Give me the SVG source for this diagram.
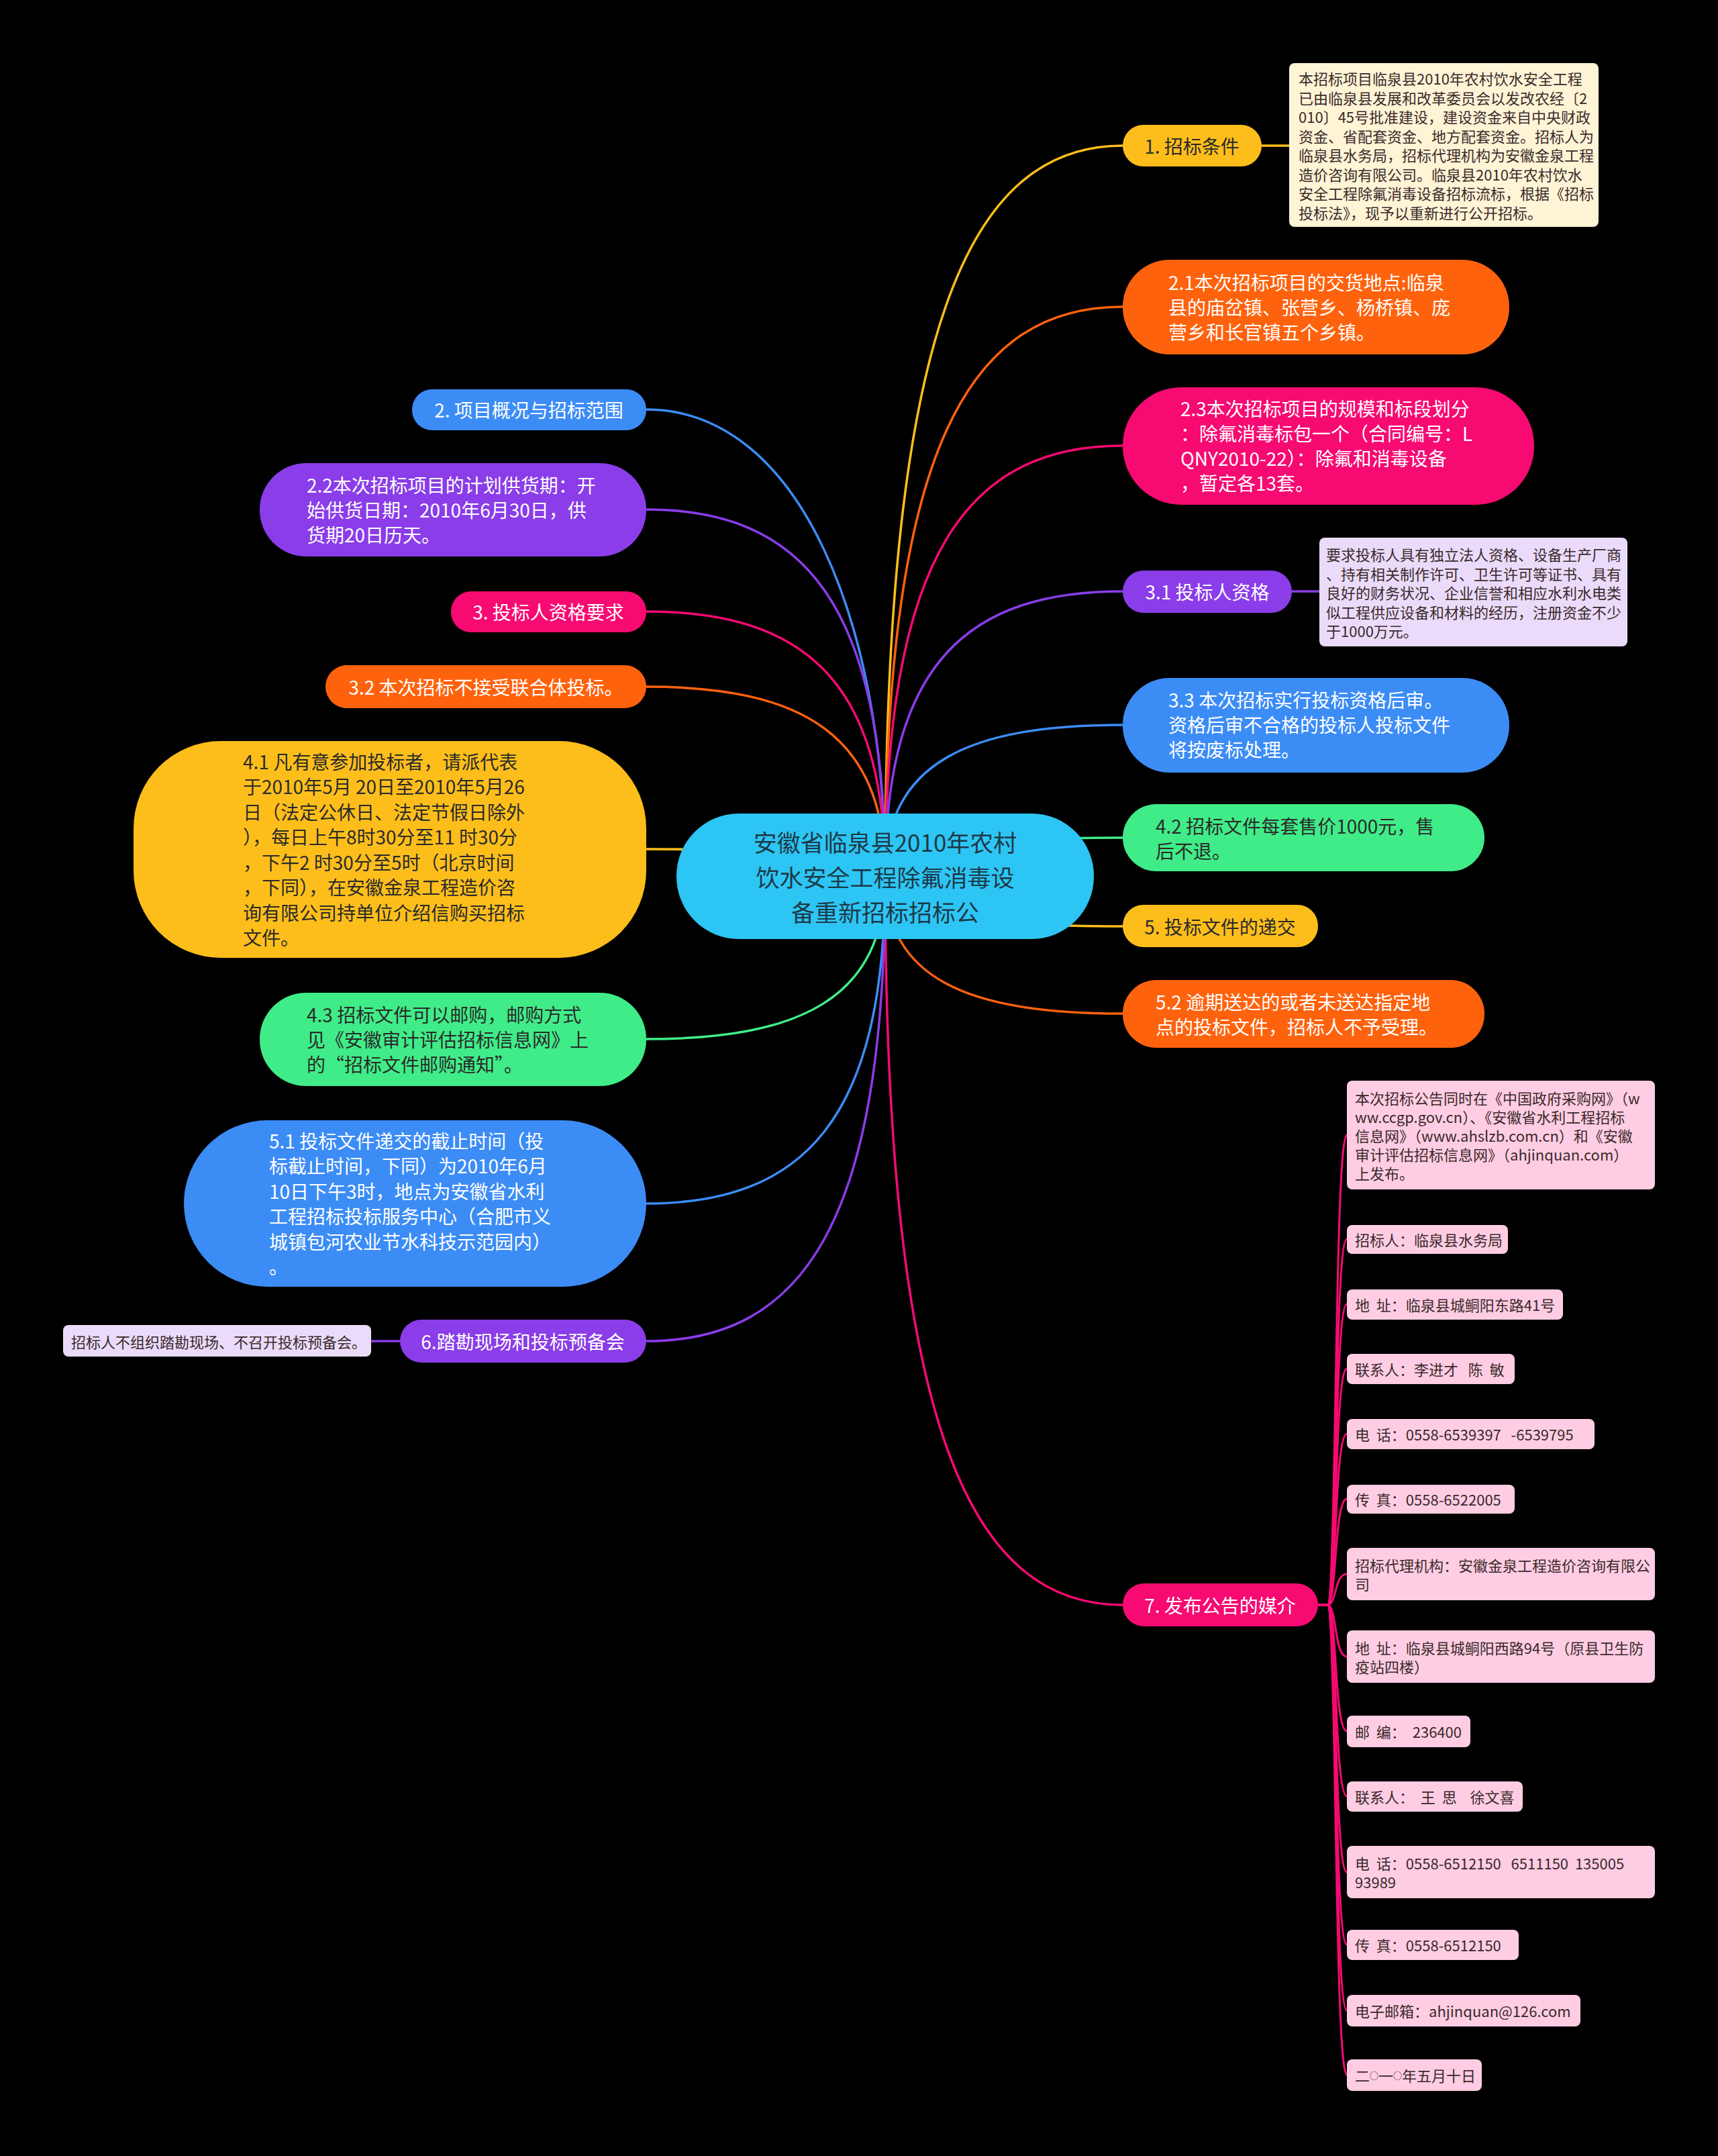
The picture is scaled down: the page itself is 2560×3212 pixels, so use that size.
<svg xmlns="http://www.w3.org/2000/svg" width="2560" height="3212" viewBox="0 0 2560 3212">
<style>
text{font-family:"Noto Sans CJK SC","Noto Sans",sans-serif;}
.f28{font-size:28px}
.f35{font-size:35px}
.f22{font-size:22px}
.pre{white-space:pre}
.w{fill:#ffffff}
.d{fill:#2a2a2a}
.n{fill:#3a2a2a}
.c{stroke-width:3.5;fill:none;stroke-linecap:round}
.amber{fill:#FDBE1B}.orange{fill:#FF620D}.pink{fill:#F70A72}.purple{fill:#8A3DE8}.blue{fill:#3C8CF6}.green{fill:#40EC88}
.cream{fill:#FFF4D6}.lav{fill:#EADBFA}.lpink{fill:#FFCDE3}
</style>
<rect x="0" y="0" width="2560" height="3212" fill="#000000"/>
<g id="connectors">
<path class="c" stroke="#FDBE1B" d="M1319,1305 C1319,489 1443,217 1673,217"/>
<path class="c" stroke="#FF620D" d="M1319,1305 C1319,669 1443,457 1673,457"/>
<path class="c" stroke="#F70A72" d="M1319,1305 C1319,824 1443,664 1673,664"/>
<path class="c" stroke="#8A3DE8" d="M1319,1305 C1319,987 1443,881 1673,881"/>
<path class="c" stroke="#3C8CF6" d="M1319,1305 C1319,1136 1443,1080 1673,1080"/>
<path class="c" stroke="#40EC88" d="M1319,1305 C1319,1262 1443,1248 1673,1248"/>
<path class="c" stroke="#FDBE1B" d="M1319,1305 C1319,1361 1443,1380 1673,1380"/>
<path class="c" stroke="#FF620D" d="M1319,1305 C1319,1459 1443,1510 1673,1510"/>
<path class="c" stroke="#F70A72" d="M1319,1305 C1319,2120 1443,2391 1673,2391"/>
<path class="c" stroke="#3C8CF6" d="M1319,1305 C1319,936 1195,610 963,610"/>
<path class="c" stroke="#8A3DE8" d="M1319,1305 C1319,896 1195,759 963,759"/>
<path class="c" stroke="#F70A72" d="M1319,1305 C1319,1012 1195,911 963,911"/>
<path class="c" stroke="#FF620D" d="M1319,1305 C1319,1094 1195,1023 963,1023"/>
<path class="c" stroke="#FDBE1B" d="M1319,1305 C1319,1275 1195,1265 963,1265"/>
<path class="c" stroke="#40EC88" d="M1319,1305 C1319,1486 1195,1548 963,1548"/>
<path class="c" stroke="#3C8CF6" d="M1319,1305 C1319,1671 1195,1793 963,1793"/>
<path class="c" stroke="#8A3DE8" d="M1319,1305 C1319,1825 1195,1998 963,1998"/>
<path class="c" stroke="#FDBE1B" d="M1880,217 H1921"/>
<path class="c" stroke="#8A3DE8" d="M1925,881 H1966"/>
<path class="c" stroke="#8A3DE8" d="M553,1998 H596"/>
<g stroke="#F70A72" class="c" style="stroke-width:3">
<path d="M1964,2391 H1978 C1992,2391 1988,1691 2007,1691"/>
<path d="M1964,2391 H1978 C1992,2391 1988,1846 2007,1846"/>
<path d="M1964,2391 H1978 C1992,2391 1988,1943 2007,1943"/>
<path d="M1964,2391 H1978 C1992,2391 1988,2039 2007,2039"/>
<path d="M1964,2391 H1978 C1992,2391 1988,2136 2007,2136"/>
<path d="M1964,2391 H1978 C1992,2391 1988,2233 2007,2233"/>
<path d="M1964,2391 H1978 C1992,2391 1988,2345 2007,2345"/>
<path d="M1964,2391 H1978 C1992,2391 1988,2468 2007,2468"/>
<path d="M1964,2391 H1978 C1992,2391 1988,2579 2007,2579"/>
<path d="M1964,2391 H1978 C1992,2391 1988,2676 2007,2676"/>
<path d="M1964,2391 H1978 C1992,2391 1988,2789 2007,2789"/>
<path d="M1964,2391 H1978 C1992,2391 1988,2897 2007,2897"/>
<path d="M1964,2391 H1978 C1992,2391 1988,2995 2007,2995"/>
<path d="M1964,2391 H1978 C1992,2391 1988,3091 2007,3091"/>
</g>
</g>

<g id="center">
<rect x="1008" y="1212" width="622" height="187" rx="93" fill="#2DC5F4"/>
<text class="f35" fill="#1C3A48" text-anchor="middle" dominant-baseline="central"><tspan x="1319" y="1253">安徽省临泉县2010年农村</tspan><tspan x="1319" y="1305">饮水安全工程除氟消毒设</tspan><tspan x="1319" y="1357">备重新招标招标公</tspan></text>
</g>

<g id="n1">
<rect class="amber" x="1673" y="186" width="207" height="62" rx="31"/>
<text class="f28 d" x="1776" y="217" text-anchor="middle" dominant-baseline="central">1. 招标条件</text>
</g>
<g id="note1">
<rect class="cream" x="1921" y="94" width="461" height="244" rx="8"/>
<text class="f22 n" dominant-baseline="central"><tspan x="1935" y="116">本招标项目临泉县2010年农村饮水安全工程</tspan><tspan x="1935" y="144.5">已由临泉县发展和改革委员会以发改农经〔2</tspan><tspan x="1935" y="173">010〕45号批准建设，建设资金来自中央财政</tspan><tspan x="1935" y="201.5">资金、省配套资金、地方配套资金。招标人为</tspan><tspan x="1935" y="230">临泉县水务局，招标代理机构为安徽金泉工程</tspan><tspan x="1935" y="258.5">造价咨询有限公司。临泉县2010年农村饮水</tspan><tspan x="1935" y="287">安全工程除氟消毒设备招标流标，根据《招标</tspan><tspan x="1935" y="315.5">投标法》，现予以重新进行公开招标。</tspan></text>
</g>
<g id="n21">
<rect class="orange" x="1673" y="387" width="576" height="141" rx="70"/>
<text class="f28 w" dominant-baseline="central"><tspan x="1741" y="420">2.1本次招标项目的交货地点:临泉</tspan><tspan x="1741" y="457">县的庙岔镇、张营乡、杨桥镇、庞</tspan><tspan x="1741" y="494">营乡和长官镇五个乡镇。</tspan></text>
</g>
<g id="n23">
<rect class="pink" x="1673" y="577" width="613" height="175" rx="87"/>
<text class="f28 w" dominant-baseline="central"><tspan x="1759" y="608">2.3本次招标项目的规模和标段划分</tspan><tspan x="1759" y="645">：除氟消毒标包一个（合同编号：L</tspan><tspan x="1759" y="682">QNY2010-22）：除氟和消毒设备</tspan><tspan x="1759" y="719">，暂定各13套。</tspan></text>
</g>
<g id="n31">
<rect class="purple" x="1673" y="850" width="252" height="63" rx="31"/>
<text class="f28 w" x="1799" y="881" text-anchor="middle" dominant-baseline="central">3.1 投标人资格</text>
</g>
<g id="note31">
<rect class="lav" x="1966" y="801" width="459" height="162" rx="8"/>
<text class="f22 n" dominant-baseline="central"><tspan x="1976" y="825">要求投标人具有独立法人资格、设备生产厂商</tspan><tspan x="1976" y="853.5">、持有相关制作许可、卫生许可等证书、具有</tspan><tspan x="1976" y="882">良好的财务状况、企业信誉和相应水利水电类</tspan><tspan x="1976" y="910.5">似工程供应设备和材料的经历，注册资金不少</tspan><tspan x="1976" y="939">于1000万元。</tspan></text>
</g>
<g id="n33">
<rect class="blue" x="1673" y="1010" width="576" height="141" rx="70"/>
<text class="f28 w" dominant-baseline="central"><tspan x="1741" y="1042">3.3 本次招标实行投标资格后审。</tspan><tspan x="1741" y="1079">资格后审不合格的投标人投标文件</tspan><tspan x="1741" y="1116">将按废标处理。</tspan></text>
</g>
<g id="n42">
<rect class="green" x="1673" y="1198" width="539" height="100" rx="50"/>
<text class="f28 d" dominant-baseline="central"><tspan x="1722" y="1229.5">4.2 招标文件每套售价1000元，售</tspan><tspan x="1722" y="1266.5">后不退。</tspan></text>
</g>
<g id="n5">
<rect class="amber" x="1673" y="1348" width="291" height="63" rx="31"/>
<text class="f28 d" x="1818" y="1380" text-anchor="middle" dominant-baseline="central">5. 投标文件的递交</text>
</g>
<g id="n52">
<rect class="orange" x="1673" y="1460" width="539" height="101" rx="50"/>
<text class="f28 w" dominant-baseline="central"><tspan x="1722" y="1492">5.2 逾期送达的或者未送达指定地</tspan><tspan x="1722" y="1529">点的投标文件，招标人不予受理。</tspan></text>
</g>
<g id="n7">
<rect class="pink" x="1673" y="2359" width="291" height="64" rx="32"/>
<text class="f28 w" x="1818" y="2391" text-anchor="middle" dominant-baseline="central">7. 发布公告的媒介</text>
</g>

<g id="n7a">
<rect class="lpink" x="2007" y="1610" width="459" height="162" rx="8"/>
<text class="f22 n" dominant-baseline="central"><tspan x="2019" y="1635">本次招标公告同时在《中国政府采购网》（w</tspan><tspan x="2019" y="1663">ww.ccgp.gov.cn）、《安徽省水利工程招标</tspan><tspan x="2019" y="1691">信息网》（www.ahslzb.com.cn）和《安徽</tspan><tspan x="2019" y="1719">审计评估招标信息网》（ahjinquan.com）</tspan><tspan x="2019" y="1747">上发布。</tspan></text>
</g>
<g id="n7b"><rect class="lpink" x="2007" y="1825" width="240" height="43" rx="8"/><text class="f22 n" x="2019" y="1846" dominant-baseline="central">招标人：临泉县水务局</text></g>
<g id="n7c"><rect class="lpink" x="2007" y="1921" width="322" height="45" rx="8"/><text class="f22 n pre" x="2019" y="1943" dominant-baseline="central">地  址：临泉县城鲖阳东路41号</text></g>
<g id="n7d"><rect class="lpink" x="2007" y="2017" width="250" height="45" rx="8"/><text class="f22 n pre" x="2019" y="2039" dominant-baseline="central">联系人：李进才   陈  敏</text></g>
<g id="n7e"><rect class="lpink" x="2007" y="2114" width="369" height="45" rx="8"/><text class="f22 n pre" x="2019" y="2136" dominant-baseline="central">电  话：0558-6539397   -6539795</text></g>
<g id="n7f"><rect class="lpink" x="2007" y="2212" width="250" height="43" rx="8"/><text class="f22 n pre" x="2019" y="2233" dominant-baseline="central">传  真：0558-6522005</text></g>
<g id="n7g"><rect class="lpink" x="2007" y="2306" width="459" height="78" rx="8"/><text class="f22 n" dominant-baseline="central"><tspan x="2019" y="2331">招标代理机构：安徽金泉工程造价咨询有限公</tspan><tspan x="2019" y="2359">司</tspan></text></g>
<g id="n7h"><rect class="lpink" x="2007" y="2429" width="459" height="78" rx="8"/><text class="f22 n pre" dominant-baseline="central"><tspan x="2019" y="2454">地  址：临泉县城鲖阳西路94号（原县卫生防</tspan><tspan x="2019" y="2482">疫站四楼）</tspan></text></g>
<g id="n7i"><rect class="lpink" x="2007" y="2556" width="184" height="47" rx="8"/><text class="f22 n pre" x="2019" y="2579" dominant-baseline="central">邮  编：  236400</text></g>
<g id="n7j"><rect class="lpink" x="2007" y="2654" width="262" height="45" rx="8"/><text class="f22 n pre" x="2019" y="2676" dominant-baseline="central">联系人：  王  思    徐文喜</text></g>
<g id="n7k"><rect class="lpink" x="2007" y="2750" width="459" height="78" rx="8"/><text class="f22 n pre" dominant-baseline="central"><tspan x="2019" y="2775">电  话：0558-6512150   6511150  135005</tspan><tspan x="2019" y="2803">93989</tspan></text></g>
<g id="n7l"><rect class="lpink" x="2007" y="2875" width="256" height="45" rx="8"/><text class="f22 n pre" x="2019" y="2897" dominant-baseline="central">传  真：0558-6512150</text></g>
<g id="n7m"><rect class="lpink" x="2007" y="2972" width="348" height="47" rx="8"/><text class="f22 n" x="2019" y="2995" dominant-baseline="central">电子邮箱：ahjinquan@126.com</text></g>
<g id="n7n"><rect class="lpink" x="2007" y="3068" width="201" height="47" rx="8"/><text class="f22 n" x="2019" y="3091" dominant-baseline="central">二<tspan style="font-size:13px">○</tspan>一<tspan style="font-size:13px">○</tspan>年五月十日</text></g>

<g id="n2">
<rect class="blue" x="614" y="580" width="349" height="61" rx="30"/>
<text class="f28 w" x="788" y="610" text-anchor="middle" dominant-baseline="central">2. 项目概况与招标范围</text>
</g>
<g id="n22">
<rect class="purple" x="387" y="690" width="576" height="139" rx="69"/>
<text class="f28 w" dominant-baseline="central"><tspan x="457" y="722">2.2本次招标项目的计划供货期：开</tspan><tspan x="457" y="759">始供货日期：2010年6月30日，供</tspan><tspan x="457" y="796">货期20日历天。</tspan></text>
</g>
<g id="n3">
<rect class="pink" x="672" y="881" width="291" height="61" rx="30"/>
<text class="f28 w" x="817" y="911" text-anchor="middle" dominant-baseline="central">3. 投标人资格要求</text>
</g>
<g id="n32">
<rect class="orange" x="485" y="991" width="478" height="64" rx="32"/>
<text class="f28 w" x="724" y="1023" text-anchor="middle" dominant-baseline="central">3.2 本次招标不接受联合体投标。</text>
</g>
<g id="n41">
<rect class="amber" x="199" y="1104" width="764" height="323" rx="130"/>
<text class="f28 d" dominant-baseline="central"><tspan x="362" y="1134">4.1 凡有意参加投标者，请派代表</tspan><tspan x="362" y="1171">于2010年5月 20日至2010年5月26</tspan><tspan x="362" y="1209">日（法定公休日、法定节假日除外</tspan><tspan x="362" y="1246">），每日上午8时30分至11 时30分</tspan><tspan x="362" y="1284">，下午2 时30分至5时（北京时间</tspan><tspan x="362" y="1321">，下同），在安徽金泉工程造价咨</tspan><tspan x="362" y="1359">询有限公司持单位介绍信购买招标</tspan><tspan x="362" y="1396">文件。</tspan></text>
</g>
<g id="n43">
<rect class="green" x="387" y="1479" width="576" height="139" rx="69"/>
<text class="f28 d" dominant-baseline="central"><tspan x="457" y="1511">4.3 招标文件可以邮购，邮购方式</tspan><tspan x="457" y="1548">见《安徽审计评估招标信息网》上</tspan><tspan x="457" y="1585">的“招标文件邮购通知”。</tspan></text>
</g>
<g id="n51">
<rect class="blue" x="274" y="1669" width="689" height="248" rx="124"/>
<text class="f28 w" dominant-baseline="central"><tspan x="401" y="1699">5.1 投标文件递交的截止时间（投</tspan><tspan x="401" y="1736">标截止时间，下同）为2010年6月</tspan><tspan x="401" y="1774">10日下午3时，地点为安徽省水利</tspan><tspan x="401" y="1811">工程招标投标服务中心（合肥市义</tspan><tspan x="401" y="1849">城镇包河农业节水科技示范园内）</tspan><tspan x="401" y="1886">。</tspan></text>
</g>
<g id="n6">
<rect class="purple" x="596" y="1966" width="367" height="64" rx="32"/>
<text class="f28 w" x="779" y="1998" text-anchor="middle" dominant-baseline="central">6.踏勘现场和投标预备会</text>
</g>
<g id="note6">
<rect class="lav" x="94" y="1974" width="459" height="47" rx="8"/>
<text class="f22 n" x="106" y="1998" dominant-baseline="central">招标人不组织踏勘现场、不召开投标预备会。</text>
</g>
</svg>
